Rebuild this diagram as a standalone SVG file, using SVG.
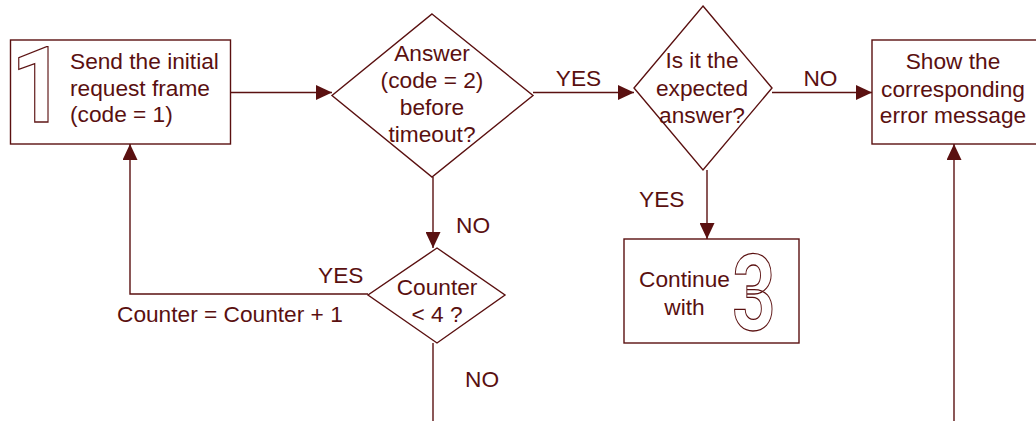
<svg xmlns="http://www.w3.org/2000/svg" width="1036" height="421" viewBox="0 0 1036 421">
  <style>
    .shape { fill: #ffffff; stroke: #5a1010; stroke-width: 1.4; }
    .line { fill: none; stroke: #5a1010; stroke-width: 1.4; }
    .t { font-family: "Liberation Sans", Arial, sans-serif; font-size: 22.7px; fill: #5a1010; }
    .c { text-anchor: middle; }
    .big { font-family: Roboto, "Liberation Sans", sans-serif; font-weight: 700; font-size: 105px; fill: #ffffff; stroke: #5a1010; stroke-width: 1.3; text-anchor: middle; }
  </style>
  <defs>
    <marker id="arrow" markerUnits="userSpaceOnUse" markerWidth="16" markerHeight="15" refX="16" refY="7.5" orient="auto">
      <path d="M0,0 L16,7.5 L0,15 z" fill="#5a1010"/>
    </marker>
  </defs>
  <rect width="1036" height="421" fill="#ffffff"/>

  <!-- connectors -->
  <g id="connectors">
    <line class="line" x1="231" y1="92.5" x2="332" y2="92.5" marker-end="url(#arrow)"/>
    <line class="line" x1="533" y1="92.5" x2="634" y2="92.5" marker-end="url(#arrow)"/>
    <line class="line" x1="772" y1="92.5" x2="872" y2="92.5" marker-end="url(#arrow)"/>
    <line class="line" x1="433" y1="177" x2="433" y2="248" marker-end="url(#arrow)"/>
    <line class="line" x1="707" y1="170" x2="707" y2="239" marker-end="url(#arrow)"/>
    <polyline class="line" points="368,294 130,294 130,144" marker-end="url(#arrow)"/>
    <line class="line" x1="433" y1="343" x2="433" y2="421"/>
    <line class="line" x1="954" y1="421" x2="954" y2="144" marker-end="url(#arrow)"/>
    <text class="t c" x="578.5" y="86">YES</text>
    <text class="t c" x="820.5" y="86">NO</text>
    <text class="t" x="456" y="233">NO</text>
    <text class="t" x="318" y="283">YES</text>
    <text class="t" x="117" y="322">Counter = Counter + 1</text>
    <text class="t" x="465" y="387">NO</text>
    <text class="t" x="639" y="207">YES</text>
  </g>

  <!-- step 1: send request -->
  <g id="send-request">
    <rect class="shape" x="10.5" y="40" width="220" height="104"/>
    <text class="big" transform="translate(38,122) scale(0.9,1)" x="0" y="0">1</text>
    <text class="t" x="70" y="69">Send the initial</text>
    <text class="t" x="70" y="95.5">request frame</text>
    <text class="t" x="70" y="122">(code = 1)</text>
  </g>

  <!-- decision: answer before timeout -->
  <g id="answer-check">
    <polygon class="shape" points="432,14 533,95.5 432,177 332,95.5"/>
    <text class="t c" x="432" y="61">Answer</text>
    <text class="t c" x="432" y="88">(code = 2)</text>
    <text class="t c" x="432" y="115">before</text>
    <text class="t c" x="432" y="142">timeout?</text>
  </g>

  <!-- decision: expected answer -->
  <g id="expected-check">
    <polygon class="shape" points="703,6 772,88 703,170 634,88"/>
    <text class="t c" x="702" y="68">Is it the</text>
    <text class="t c" x="702" y="96">expected</text>
    <text class="t c" x="702" y="123">answer?</text>
  </g>

  <!-- error message -->
  <g id="error-message">
    <rect class="shape" x="872" y="40" width="170" height="104"/>
    <text class="t c" x="953" y="69">Show the</text>
    <text class="t c" x="953" y="97">corresponding</text>
    <text class="t c" x="953" y="123">error message</text>
  </g>

  <!-- decision: retry counter -->
  <g id="counter-check">
    <polygon class="shape" points="437,248 505,295 437,343 368,295"/>
    <text class="t c" x="437" y="295">Counter</text>
    <text class="t c" x="437" y="322">&lt; 4 ?</text>
  </g>

  <!-- continue with step 3 -->
  <g id="continue">
    <rect class="shape" x="624" y="239" width="175" height="104"/>
    <text class="t c" x="684.5" y="287">Continue</text>
    <text class="t c" x="684.5" y="315">with</text>
    <text class="big" transform="translate(754,330) scale(0.72,1)" x="0" y="0">3</text>
  </g>
</svg>
